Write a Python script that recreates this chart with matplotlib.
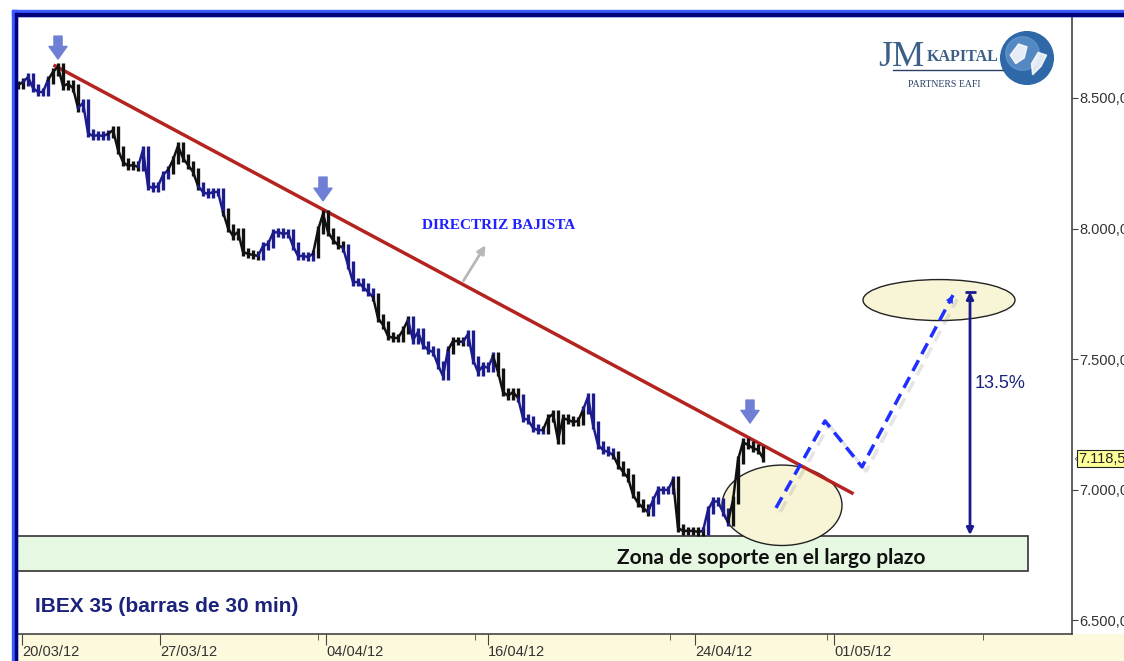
import matplotlib
matplotlib.use('Agg')
import matplotlib.pyplot as plt
import numpy as np
from matplotlib.patches import Ellipse, Rectangle, Circle, Polygon
from matplotlib.lines import Line2D
import matplotlib.patheffects as pe
import matplotlib.transforms as mtransforms

# IBEX 35, cierres de barras de 30 min (una muestra cada ~3 barras)
precios = [
    8550, 8561, 8580, 8538, 8523, 8523, 8569, 8600, 8619, 8546,
    8554, 8538, 8462, 8481, 8366, 8354, 8358, 8354, 8362, 8377,
    8301, 8255, 8240, 8243, 8236, 8301, 8163, 8155, 8163, 8205,
    8224, 8263, 8316, 8270, 8243, 8217, 8163, 8140, 8132, 8140,
    8140, 8063, 8002, 7971, 7987, 7910, 7903, 7899, 7895, 7933,
    7941, 7983, 7987, 7979, 7983, 7933, 7895, 7895, 7891, 7903,
    7994, 8056, 7987, 7956, 7937, 7926, 7860, 7795, 7795, 7776,
    7757, 7738, 7657, 7631, 7588, 7581, 7581, 7611, 7650, 7573,
    7604, 7554, 7535, 7527, 7477, 7435, 7535, 7569, 7569, 7565,
    7596, 7497, 7451, 7474, 7466, 7512, 7451, 7374, 7359, 7374,
    7351, 7274, 7267, 7236, 7228, 7228, 7274, 7290, 7190, 7274,
    7267, 7259, 7263, 7305, 7355, 7248, 7171, 7152, 7144, 7133,
    7094, 7068, 7045, 6980, 6949, 6930, 6914, 6960, 6999, 6999,
    6999, 7037, 6853, 6842, 6842, 6842, 6838, 6842, 6922, 6957,
    6953, 6914, 6876, 6960, 7114, 7182, 7171, 7159, 7152, 7121,
]

# tramos de color de las barras (alternan negro / azul)
tramos_len = [2, 5, 6, 6, 6, 6, 6, 5, 7, 11, 6, 6, 7, 8, 3, 6, 5, 5, 8, 6, 7, 5, 6, 5, 7]
tramos_color = ['negro', 'azul'] * 12 + ['negro']
colores = {'negro': '#111111', 'azul': '#1c1c8c'}

ultimo = 7118.5

# eje x (posiciones en muestras)
fechas = ['20/03/12', '27/03/12', '04/04/12', '16/04/12', '24/04/12', '01/05/12']
fechas_pos = [0.8, 28.4, 61.6, 94.0, 135.4, 163.2]
ticks_menores = [60.0, 91.4, 130.4, 161.8, 193.0]

niveles = [6500, 7000, 7500, 8000, 8500]

# directriz bajista
directriz_x = [7.4, 166.8]
directriz_y = [8623, 6987]

# maximos marcados con flecha (x, punta, cola)
flechas_x = [8.0, 61.0, 146.4]
flechas_punta = [8649, 8106, 7255]
flechas_cola = [8737, 8197, 7343]

# proyeccion
proy_x = [151.6, 161.4, 168.8, 187.0]
proy_y = [6930, 7263, 7087, 7745]

# zona de soporte y objetivo
soporte_inf, soporte_sup = 6689, 6822
objetivo = 7757
base_objetivo = 6826


def fmt_es(v):
    return f"{v:,.2f}".replace(',', 'X').replace('.', ',').replace('X', '.')


W, H = 1124, 661
fig = plt.figure(figsize=(W / 100, H / 100), dpi=100)
fig.patch.set_facecolor('white')


def fx(px):
    return px / W


def fy(py):
    return 1 - py / H


# franja amarilla de fechas
fig.add_artist(Rectangle((fx(17), 0), fx(1124) - fx(17), 27 / H,
                         transform=fig.transFigure, color='#fdf9dc', zorder=0))

ax = fig.add_axes([fx(17), fy(634), fx(1072) - fx(17), fy(16) - fy(634)])
ax.set_facecolor('white')
ax.set_xlim(-0.2, 210.8)
ax.set_ylim(6447, 8814)
for s in ['left', 'top']:
    ax.spines[s].set_visible(False)
for s in ['right', 'bottom']:
    ax.spines[s].set_color('#444444')
    ax.spines[s].set_linewidth(1.2)

ax.yaxis.tick_right()
ax.set_yticks(niveles)
ax.set_yticklabels([fmt_es(v) for v in niveles], family='Liberation Sans')
ax.tick_params(axis='y', direction='out', length=4, pad=1, labelsize=10.5,
               color='#444444', labelcolor='#333333')

ax.set_xticks(fechas_pos)
ax.set_xticklabels(fechas, family='Liberation Sans')
ax.set_xticks(ticks_menores, minor=True)
ax.tick_params(axis='x', which='major', direction='out', length=8, pad=0,
               labelsize=10.5, color='#444444', labelcolor='#333333')
ax.tick_params(axis='x', which='minor', direction='out', length=4, color='#444444')
for lab in ax.get_xticklabels():
    lab.set_horizontalalignment('left')

# barras de precio
x = np.arange(len(precios))
p = np.array(precios, dtype=float)
prev = np.concatenate([[p[0]], p[:-1]])
inicio = 0
for n, c in zip(tramos_len, tramos_color):
    fin = inicio + n
    a = max(inicio - 1, 0)
    ax.plot(x[a:fin], p[a:fin], color=colores[c], lw=1.8, zorder=6)
    lo = np.minimum(p[inicio:fin], prev[inicio:fin]) - 14
    hi = np.maximum(p[inicio:fin], prev[inicio:fin]) + 14
    ax.vlines(x[inicio:fin], lo, hi, color=colores[c], lw=2.4, zorder=6)
    inicio = fin

# zona de soporte
ax.add_patch(Rectangle((-0.2, soporte_inf), 202.2, soporte_sup - soporte_inf,
                       facecolor='#e6f8e1', edgecolor='#333333', lw=1.2, zorder=2))
ax.text(150.6, 6738, 'Zona de soporte en el largo plazo',
        fontsize=15, fontweight='bold', family='Lato', ha='center', va='center',
        color='#111111', zorder=7)

# elipses
ax.add_patch(Ellipse((152.8, 6940), 24.0, 308, facecolor='#f7f5d6',
                     edgecolor='#222222', lw=1, zorder=3))
ax.add_patch(Ellipse((184.2, 7726), 30.4, 157, facecolor='#f7f5d6',
                     edgecolor='#222222', lw=1, zorder=3))

# directriz bajista
ax.plot(directriz_x, directriz_y, color='#b5231f', lw=2.5, zorder=5)
ax.text(96.2, 8010, 'DIRECTRIZ BAJISTA', fontsize=11, fontweight='bold',
        family='Liberation Serif', color='#1f1fff', ha='center', va='center')
ax.annotate('', xy=(93.8, 7945), xytext=(88.8, 7791),
            arrowprops=dict(arrowstyle='-|>', color='#b8b8b8', lw=2, mutation_scale=12))

# flechas de maximos
for fxp, pt, cl in zip(flechas_x, flechas_punta, flechas_cola):
    ax.annotate('', xy=(fxp, pt), xytext=(fxp, cl),
                arrowprops=dict(arrowstyle='simple,head_length=0.7,head_width=1.0,tail_width=0.45',
                                color='#6f7fd6', mutation_scale=13, shrinkA=0, shrinkB=0),
                zorder=8)

# proyeccion discontinua
ax.plot(proy_x, proy_y, color='#1f2fff', lw=2.5, ls=(0, (3.5, 2)), zorder=7,
        path_effects=[pe.SimpleLineShadow(offset=(3, -3), shadow_color='gray', alpha=0.2),
                      pe.Normal()])
ax.annotate('', xy=(proy_x[-1], proy_y[-1]),
            xytext=(proy_x[-2] + 0.9 * (proy_x[-1] - proy_x[-2]),
                    proy_y[-2] + 0.9 * (proy_y[-1] - proy_y[-2])),
            arrowprops=dict(arrowstyle='-|>', color='#1f2fff', lw=0, mutation_scale=14,
                            shrinkA=0, shrinkB=0), zorder=8)

# flecha vertical 13.5%
ax.annotate('', xy=(190.4, objetivo), xytext=(190.4, base_objetivo),
            arrowprops=dict(arrowstyle='<|-|>', color='#1a1a8c', lw=2, mutation_scale=10,
                            shrinkA=0, shrinkB=0), zorder=8)
ax.hlines(objetivo, 189.3, 191.5, color='#1a1a8c', lw=2, zorder=8)
ax.text(191.4, 7408, '13.5%', fontsize=13, family='Liberation Sans', color='#1a237e',
        ha='left', va='center')

# ultimo precio
trans = mtransforms.blended_transform_factory(ax.transAxes, ax.transData)
ax.text(1.001, ultimo, '‹', transform=trans, fontsize=8, color='#555555',
        ha='left', va='center', clip_on=False)
ax.text(1.006, ultimo, fmt_es(ultimo), transform=trans, fontsize=10.5,
        family='Liberation Sans', color='#222222', ha='left', va='center', clip_on=False,
        bbox=dict(boxstyle='square,pad=0.1', facecolor='#ffff99', edgecolor='#222222', lw=0.8))

# titulo
fig.text(fx(35), fy(607), 'IBEX 35 (barras de 30 min)', fontsize=15, fontweight='bold',
         family='Liberation Sans', color='#1b237a', ha='left', va='center')

# logo
fig.text(fx(878), fy(66), 'JM', fontsize=26, family='Liberation Serif', color='#3b5f86',
         va='baseline', ha='left')
fig.text(fx(927), fy(61), 'KAPITAL', fontsize=11.5, family='Liberation Serif',
         fontweight='bold', color='#3b5f86', va='baseline', ha='left')
fig.add_artist(Line2D([fx(893), fx(1003)], [fy(70), fy(70)], transform=fig.transFigure,
                      color='#2b3f66', lw=1))
fig.text(fx(908), fy(87), 'PARTNERS EAFI', fontsize=7, family='Liberation Serif',
         color='#2b3f66', va='baseline', ha='left')
glob = fig.add_axes([fx(999), fy(86), 56 / W, 56 / H])
glob.set_xlim(0, 1)
glob.set_ylim(0, 1)
glob.axis('off')
glob.add_patch(Circle((0.5, 0.5), 0.47, color='#2f68a8'))
glob.add_patch(Circle((0.42, 0.58), 0.3, color='#6d9fd4', alpha=0.6))
glob.add_patch(Polygon([[0.2, 0.55], [0.35, 0.75], [0.5, 0.7], [0.45, 0.5], [0.3, 0.4]],
                       color='white', alpha=0.85))
glob.add_patch(Polygon([[0.6, 0.2], [0.75, 0.35], [0.85, 0.55], [0.7, 0.6], [0.58, 0.4]],
                       color='white', alpha=0.85))

# marco azul
fig.add_artist(Rectangle((fx(12), 0), 5 / W, (H - 10) / H, transform=fig.transFigure,
                         color='#3a5cff', zorder=10))
fig.add_artist(Rectangle((fx(12), fy(16)), (W - 12) / W, 6 / H, transform=fig.transFigure,
                         color='#3a5cff', zorder=10))
fig.add_artist(Rectangle((fx(14.5), 0), 2.5 / W, (H - 13) / H, transform=fig.transFigure,
                         color='#00007a', zorder=11))
fig.add_artist(Rectangle((fx(14.5), fy(16)), (W - 14.5) / W, 3 / H, transform=fig.transFigure,
                         color='#00007a', zorder=11))

fig.savefig('out.png', dpi=100)
